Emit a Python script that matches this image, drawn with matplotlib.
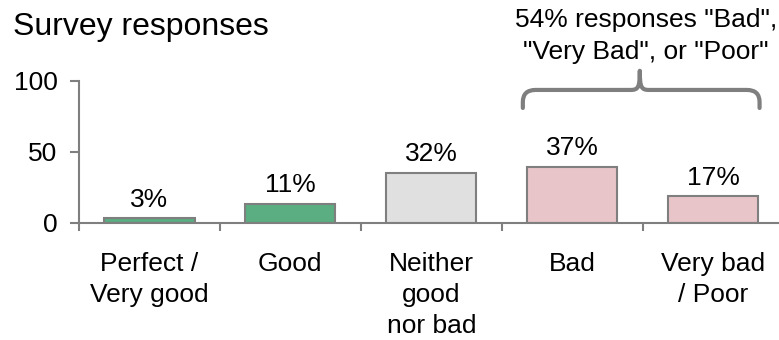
import matplotlib
matplotlib.use('Agg')
import matplotlib.pyplot as plt
from matplotlib.path import Path
from matplotlib.patches import PathPatch

plt.rcParams['font.family'] = ['Liberation Sans', 'DejaVu Sans']

# data
categories = ['Perfect /\nVery good', 'Good', 'Neither\ngood\nnor bad', 'Bad', 'Very bad\n/ Poor']
heights = [3, 13, 35, 39.5, 18.5]
labels = ['3%', '11%', '32%', '37%', '17%']
colors = ['#5aae82', '#5aae82', '#e0e0e0', '#e8c5c8', '#e8c5c8']
bracket_text = '54% responses "Bad",\n"Very Bad", or "Poor"'

edge = '#7f7f7f'
fs = 19

fig = plt.figure(figsize=(7.79, 3.40), dpi=100)
ax = fig.add_axes([0.1014, 0.345, 0.9044, 0.4176])

x = list(range(len(categories)))
bw = 0.64
ax.bar(x, heights, width=bw, color=colors, edgecolor=edge, linewidth=1.5, zorder=2)

for xi, h, lab in zip(x, heights, labels):
    ax.annotate(lab, (xi, h), xytext=(0, 8.5), textcoords='offset points',
                ha='center', va='baseline', fontsize=fs)

ax.set_xlim(-0.5, len(categories) - 0.5)
ax.set_ylim(0, 100)
ax.set_yticks([0, 50, 100])
ax.set_xticks(x)
ax.set_xticklabels(categories, fontsize=fs, linespacing=1.36)
ax.set_xticks([i - 0.5 for i in x], minor=True)
ax.tick_params(axis='x', which='major', length=0, pad=21)
ax.tick_params(axis='x', which='minor', length=5.5, width=1.5, color=edge)
ax.tick_params(axis='y', length=6.5, width=1.5, color=edge, labelsize=fs, pad=9)

for s in ['top', 'right']:
    ax.spines[s].set_visible(False)
for s in ['left', 'bottom']:
    ax.spines[s].set_color(edge)
    ax.spines[s].set_linewidth(1.5)

# curly bracket over "Bad" and "Very bad / Poor"
x0 = 3 - bw / 2 - 0.03
x1 = 4 + bw / 2 + 0.01
xm = (x0 + x1) / 2 - 0.01
yb, yh, yt = 80.8, 93.5, 107
rx, ry = 0.09, 8.5
mx = 0.065
verts = [
    (x0, yb), (x0, yh - ry), (x0, yh), (x0 + rx, yh),
    (xm - mx, yh),
    (xm - 0.01, yh), (xm, yh + 2), (xm, yt),
    (xm, yh + 2), (xm + 0.01, yh), (xm + mx, yh),
    (x1 - rx, yh),
    (x1, yh), (x1, yh - ry),
    (x1, yb),
]
codes = [Path.MOVETO, Path.LINETO, Path.CURVE3, Path.CURVE3,
         Path.LINETO,
         Path.CURVE4, Path.CURVE4, Path.CURVE4,
         Path.CURVE4, Path.CURVE4, Path.CURVE4,
         Path.LINETO,
         Path.CURVE3, Path.CURVE3,
         Path.LINETO]
ax.add_patch(PathPatch(Path(verts, codes), fill=False, edgecolor=edge,
                       linewidth=3, capstyle='round', joinstyle='round',
                       clip_on=False))

fig.text(646 / 779, 1 - 36 / 340, bracket_text, ha='center', va='center',
         fontsize=fs, linespacing=1.42)

fig.text(13 / 779, 1 - 35 / 340, 'Survey responses', ha='left', va='baseline',
         fontsize=23)

fig.savefig('out.png', dpi=100)
